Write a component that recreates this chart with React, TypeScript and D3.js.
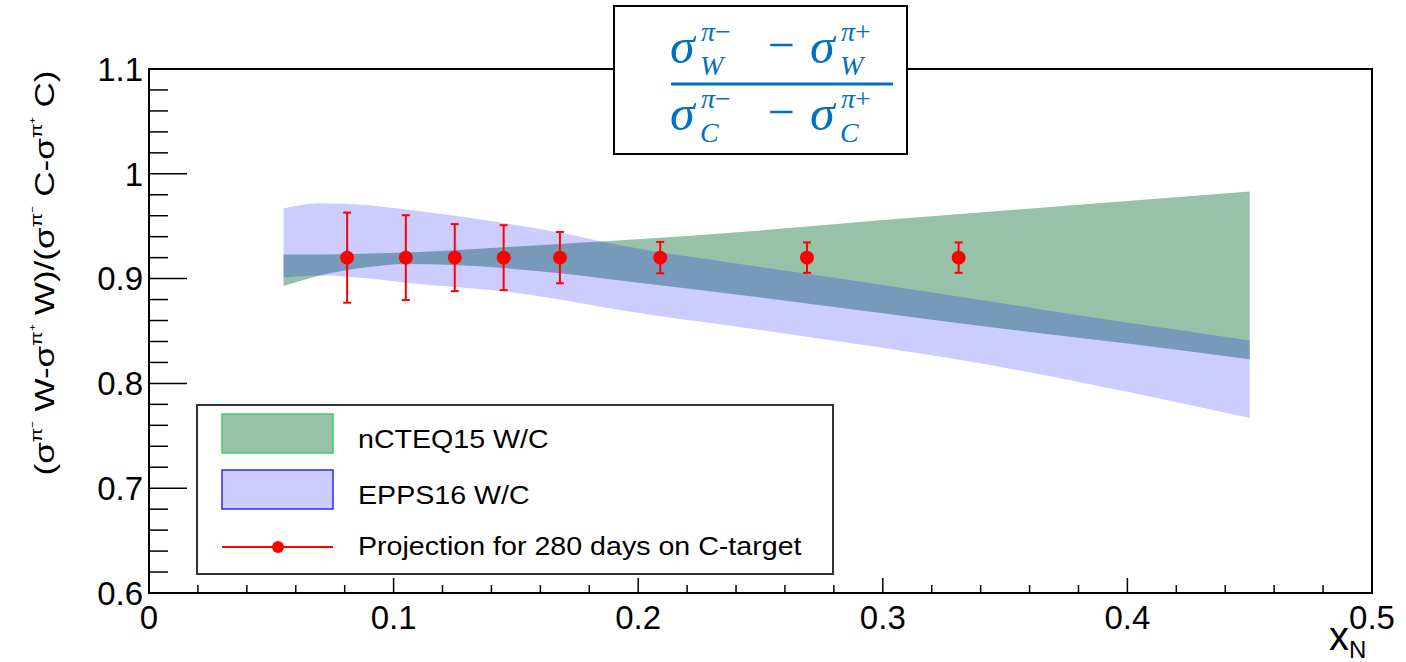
import React from 'react';
import * as d3 from 'd3';

// ---- data ----
const bandX = [0.055, 0.07, 0.09, 0.105, 0.125, 0.145, 0.168, 0.19, 0.25, 0.3, 0.35, 0.4, 0.45];
const ncteqHigh = [0.923, 0.923, 0.924, 0.925, 0.927, 0.93, 0.933, 0.936, 0.946, 0.956, 0.965, 0.974, 0.983];
const ncteqLow = [0.893, 0.903, 0.911, 0.914, 0.913, 0.91, 0.905, 0.899, 0.882, 0.867, 0.852, 0.838, 0.823];
const eppsHigh = [0.967, 0.972, 0.97, 0.966, 0.96, 0.953, 0.944, 0.933, 0.911, 0.894, 0.876, 0.858, 0.841];
const eppsLow = [0.901, 0.903, 0.9, 0.896, 0.892, 0.888, 0.88, 0.871, 0.851, 0.834, 0.815, 0.792, 0.767];

const pointX = [0.081, 0.105, 0.125, 0.145, 0.168, 0.209, 0.269, 0.331];
const pointY = [0.92, 0.92, 0.92, 0.92, 0.92, 0.92, 0.92, 0.92];
const pointErr = [0.043, 0.0405, 0.032, 0.031, 0.0245, 0.015, 0.0145, 0.0145];

const xTicks = [0, 0.1, 0.2, 0.3, 0.4, 0.5];
const yTicks = [0.6, 0.7, 0.8, 0.9, 1, 1.1];
const xMinor = d3.range(0, 0.5001, 0.02);
const yMinor = d3.range(0.6, 1.1001, 0.02);
const legendLabels = ['nCTEQ15 W/C', 'EPPS16 W/C', 'Projection for 280 days on C-target'];

// ---- layout ----
const W = 1406;
const H = 662;
const L = 149, R = 1372, T = 69, B = 593;

const GREEN = '#97c1a9';
const BLUE = 'rgba(0,0,255,0.2)';
const RED = '#ff0000';
const MATH = '#0070c0';

export default function App() {
  const x = d3.scaleLinear().domain([0, 0.5]).range([L, R]);
  const y = d3.scaleLinear().domain([0.6, 1.1]).range([B, T]);

  const idx = bandX.map((_, i) => i);
  const areaN = d3.area<number>()
    .x((i) => x(bandX[i]))
    .y0((i) => y(ncteqLow[i]))
    .y1((i) => y(ncteqHigh[i]))
    .curve(d3.curveMonotoneX);
  const areaE = d3.area<number>()
    .x((i) => x(bandX[i]))
    .y0((i) => y(eppsLow[i]))
    .y1((i) => y(eppsHigh[i]))
    .curve(d3.curveMonotoneX);

  const sans = 'Liberation Sans, Arial, Helvetica, sans-serif';
  const serif = 'Liberation Serif, DejaVu Serif, serif';

  const fracTerm = (x0: number, base: number, sup: string, sub: string, key: string) => (
    <g key={key} fill={MATH} fontFamily={serif} fontStyle="italic">
      <text x={x0} y={base} fontSize={50}>σ</text>
      <text x={x0 + 31} y={base - 22} fontSize={28}>π<tspan fontStyle="normal">{sup}</tspan></text>
      <text x={x0 + 30} y={base + 12} fontSize={28}>{sub}</text>
    </g>
  );

  const leg = { x: 197, y: 405, w: 636, h: 169 };
  const isMajor = (v: number) => Math.abs(v * 10 - Math.round(v * 10)) < 1e-6;

  return (
    <svg width={W} height={H} style={{ position: 'absolute', left: 0, top: 0, background: '#fff' }}>
      <rect x={0} y={0} width={W} height={H} fill="#fff" />
      {/* bands */}
      <path d={areaN(idx) || ''} fill={GREEN} />
      <path d={areaE(idx) || ''} fill={BLUE} />

      {/* data points */}
      {pointX.map((px, i) => (
        <g key={'p' + i} stroke={RED} strokeWidth={2}>
          <line x1={x(px)} x2={x(px)} y1={y(pointY[i] - pointErr[i])} y2={y(pointY[i] + pointErr[i])} />
          <line x1={x(px) - 4} x2={x(px) + 4} y1={y(pointY[i] - pointErr[i])} y2={y(pointY[i] - pointErr[i])} />
          <line x1={x(px) - 4} x2={x(px) + 4} y1={y(pointY[i] + pointErr[i])} y2={y(pointY[i] + pointErr[i])} />
          <circle cx={x(px)} cy={y(pointY[i])} r={7} fill={RED} stroke="none" />
        </g>
      ))}

      {/* frame */}
      <rect x={L} y={T} width={R - L} height={B - T} fill="none" stroke="#000" strokeWidth={2} />

      {/* x ticks */}
      {xMinor.map((v, i) => (
        <line key={'xm' + i} x1={x(v)} x2={x(v)} y1={B} y2={B - (isMajor(v) ? 15 : 8)} stroke="#000" strokeWidth={1.5} />
      ))}
      {xTicks.map((v) => (
        <text key={'xt' + v} x={x(v)} y={629} fontSize={33} fontFamily={sans} textAnchor="middle">{d3.format('~g')(v)}</text>
      ))}
      {/* y ticks */}
      {yMinor.map((v, i) => (
        <line key={'ym' + i} x1={L} x2={L + (isMajor(v) ? 38 : 19)} y1={y(v)} y2={y(v)} stroke="#000" strokeWidth={1.5} />
      ))}
      {yTicks.map((v) => (
        <text key={'yt' + v} x={143} y={y(v)} dy="0.36em" fontSize={33} fontFamily={sans} textAnchor="end">{d3.format('~g')(v)}</text>
      ))}

      {/* axis titles */}
      <text x={1329} y={650} fontSize={40} fontFamily={sans}>x<tspan fontSize={24} dy={8}>N</tspan></text>
      <text transform="translate(54,273) rotate(-90)" fontSize={27} fontFamily={sans} textAnchor="middle"
        textLength={405} lengthAdjust="spacingAndGlyphs">
        (σ<tspan fontSize={16} dy={-12}>π⁻</tspan><tspan dy={12}> W-σ</tspan><tspan fontSize={16} dy={-12}>π⁺</tspan><tspan dy={12}> W)/(σ</tspan><tspan fontSize={16} dy={-12}>π⁻</tspan><tspan dy={12}> C-σ</tspan><tspan fontSize={16} dy={-12}>π⁺</tspan><tspan dy={12}> C)</tspan>
      </text>

      {/* legend */}
      <rect x={leg.x} y={leg.y} width={leg.w} height={leg.h} fill="#fff" stroke="#333" strokeWidth={2} />
      <rect x={222} y={414} width={111} height={39} fill={GREEN} stroke="#3ccf5a" strokeWidth={1.5} />
      <rect x={222} y={470} width={111} height={39} fill="#ccccff" stroke="#2b2bff" strokeWidth={1.5} />
      <line x1={222} x2={333} y1={547} y2={547} stroke={RED} strokeWidth={2} />
      <circle cx={278} cy={547} r={6} fill={RED} />
      {legendLabels.map((t, i) => (
        <text key={t} transform={`translate(358,${[448, 504, 555][i]}) scale(1.1,1)`} fontSize={26} fontFamily={sans}>{t}</text>
      ))}

      {/* formula box */}
      <rect x={614} y={6} width={293} height={148} fill="#fff" stroke="#000" strokeWidth={2} />
      {fracTerm(670, 63, '−', 'W', 'n1')}
      <text x={781} y={61} fontSize={48} fill={MATH} textAnchor="middle" fontFamily={serif}>−</text>
      {fracTerm(810, 63, '+', 'W', 'n2')}
      <line x1={671} x2={893} y1={84} y2={84} stroke={MATH} strokeWidth={3} />
      {fracTerm(670, 130, '−', 'C', 'd1')}
      <text x={781} y={128} fontSize={48} fill={MATH} textAnchor="middle" fontFamily={serif}>−</text>
      {fracTerm(810, 130, '+', 'C', 'd2')}
    </svg>
  );
}
